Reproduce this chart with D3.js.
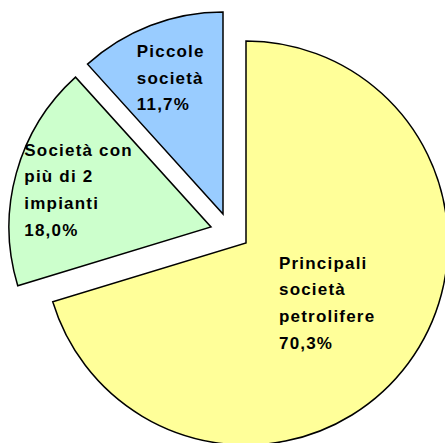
<!DOCTYPE html>
<html>
<head>
<meta charset="utf-8">
<script src="https://cdn.jsdelivr.net/npm/d3@7"></script>
<style>
  html, body { margin: 0; padding: 0; background: #fff; }
  svg { display: block; }
  .lbl { font-family: "Liberation Sans", Arial, sans-serif; font-weight: bold; font-size: 17px; fill: #000; letter-spacing: 1.2px; }
</style>
</head>
<body>
<svg width="445" height="443"></svg>
<script>
// quote di mercato
var categories = ["Principali società petrolifere", "Società con più di 2 impianti", "Piccole società"];
var values = [70.3, 18.0, 11.7];
var labelLines = [
    ["Principali", "società", "petrolifere"],
    ["Società con", "più di 2", "impianti"],
    ["Piccole", "società"]
];
var colors = ["#ffff99", "#ccffcc", "#99ccff"];

var svg = d3.select("svg"),
    cx = 246, cy = 243,
    radius = 202;

// slices pulled out of the pie (pixel shift) and where the label sits along the bisector
var explode = [[0, 0], [-35, -16], [-23, -29]];
var labelPos = [0.5, 0.68, 0.72];
var lineH = 26.7;

var pie = d3.pie().sort(null).value(function(d) { return d; });
var arc = d3.arc().innerRadius(0).outerRadius(radius);
var arcs = pie(values);

var fmt = function(v) { return d3.format(".1f")(v).replace(".", ",") + "%"; };

var slice = svg.append("g")
    .attr("class", "slices")
    .selectAll("g")
    .data(arcs)
    .enter().append("g")
    .attr("transform", function(d, i) {
        return "translate(" + (cx + explode[i][0]) + "," + (cy + explode[i][1]) + ")";
    });

slice.append("path")
    .attr("d", arc)
    .attr("fill", function(d, i) { return colors[i]; })
    .attr("stroke", "#000")
    .attr("stroke-width", 1.5)
    .attr("stroke-linejoin", "miter");

slice.each(function(d, i) {
    var g = d3.select(this);
    var mid = (d.startAngle + d.endAngle) / 2;
    var rr = radius * labelPos[i];
    var mx = Math.sin(mid) * rr, my = -Math.cos(mid) * rr;
    var lines = labelLines[i].concat([fmt(d.data)]);
    var t = g.append("text").attr("class", "lbl");
    lines.forEach(function(s, k) {
        t.append("tspan").attr("x", 0).attr("y", k * lineH).text(s);
    });
    var bb = t.node().getBBox();
    t.attr("transform", "translate(" + (mx - bb.width / 2) + "," + (my - bb.y - bb.height / 2) + ")");
});
</script>
</body>
</html>
